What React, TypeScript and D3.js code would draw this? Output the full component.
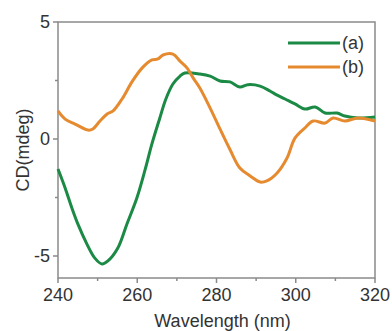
import { useEffect, useRef } from 'react';
import * as d3 from 'd3';

// curve (a), green
const waveA = [240, 241.8, 243.5, 245, 247.3, 249.3, 251.1, 252.6, 255.1, 257.4, 259.9, 262, 263.7, 265.7, 267.2, 269, 270.8, 272, 275.8, 278.4, 280.9, 283.4, 285.9, 287.9, 291, 293.5, 294.8, 297.3, 299.8, 302.3, 304.9, 307.4, 310.4, 312.4, 315.7, 320];
const cdA = [-1.28, -2.09, -2.95, -3.63, -4.49, -5.09, -5.34, -5.21, -4.66, -3.63, -2.52, -1.3, -0.21, 0.9, 1.7, 2.35, 2.69, 2.82, 2.78, 2.69, 2.48, 2.44, 2.22, 2.32, 2.26, 2.05, 1.92, 1.71, 1.5, 1.28, 1.37, 1.11, 1.11, 0.98, 0.9, 0.94];

// curve (b), orange
const waveB = [240, 241.8, 244.3, 247.6, 248.8, 250.6, 252.4, 253.9, 256.2, 258.7, 261.2, 263.7, 265.2, 266.5, 269, 270.8, 272.6, 274.1, 275.8, 278.4, 280.9, 283.4, 285.9, 288.5, 291, 292.7, 295.3, 297.8, 299.8, 302.3, 304.4, 307.4, 309.4, 312.4, 315.7, 320];
const cdB = [1.2, 0.85, 0.64, 0.38, 0.43, 0.77, 1.07, 1.2, 1.72, 2.45, 3.03, 3.38, 3.42, 3.59, 3.63, 3.33, 3.03, 2.61, 2.18, 1.32, 0.42, -0.45, -1.24, -1.58, -1.84, -1.79, -1.45, -0.81, 0.04, 0.47, 0.77, 0.68, 0.9, 0.77, 0.9, 0.77];

const xTicks = [240, 260, 280, 300, 320];
const xMinor = [250, 270, 290, 310];
const yTicks = [5, 0, -5];
const yMinor = [2.5, -2.5];

const series = [
  { label: '(a)', xs: waveA, ys: cdA, color: '#1b8a45' },
  { label: '(b)', xs: waveB, ys: cdB, color: '#e68a30' },
];

export default function App() {
  const svgRef = useRef<SVGSVGElement>(null);

  useEffect(() => {
    if (!svgRef.current) return;
    const svg = d3.select(svgRef.current);
    svg.selectAll('*').remove();

    const left = 58, right = 375, top = 22, bottom = 278;
    const x = d3.scaleLinear().domain([240, 320]).range([left, right]);
    const y = d3.scaleLinear().domain([-5.94, 5]).range([bottom, top]);
    const axisColor = '#8a8a8a';
    const font = 'Liberation Sans, Arial, sans-serif';

    // frame
    svg.append('rect')
      .attr('x', left).attr('y', top)
      .attr('width', right - left).attr('height', bottom - top)
      .attr('fill', 'none').attr('stroke', axisColor).attr('stroke-width', 1.5);

    // x ticks
    const gx = svg.append('g');
    xTicks.forEach((t) => {
      gx.append('line').attr('x1', x(t)).attr('x2', x(t)).attr('y1', bottom).attr('y2', bottom + 5)
        .attr('stroke', axisColor).attr('stroke-width', 1.5);
      gx.append('text').attr('x', x(t)).attr('y', bottom + 23)
        .attr('text-anchor', 'middle').attr('font-family', font).attr('font-size', 18).attr('fill', '#333')
        .text(t);
    });
    xMinor.forEach((t) => {
      gx.append('line').attr('x1', x(t)).attr('x2', x(t)).attr('y1', bottom).attr('y2', bottom + 3)
        .attr('stroke', axisColor).attr('stroke-width', 1.5);
    });

    // y ticks
    const gy = svg.append('g');
    yTicks.forEach((t) => {
      gy.append('line').attr('x1', left - 5).attr('x2', left).attr('y1', y(t)).attr('y2', y(t))
        .attr('stroke', axisColor).attr('stroke-width', 1.5);
      gy.append('text').attr('x', left - 8).attr('y', y(t) + 6)
        .attr('text-anchor', 'end').attr('font-family', font).attr('font-size', 18).attr('fill', '#333')
        .text(t < 0 ? `-${Math.abs(t)}` : t);
    });
    yMinor.forEach((t) => {
      gy.append('line').attr('x1', left - 3).attr('x2', left).attr('y1', y(t)).attr('y2', y(t))
        .attr('stroke', axisColor).attr('stroke-width', 1.5);
    });

    // axis titles
    svg.append('text')
      .attr('x', (left + right) / 2 + 6).attr('y', 327)
      .attr('text-anchor', 'middle').attr('font-family', font).attr('font-size', 18).attr('fill', '#333')
      .text('Wavelength (nm)');
    svg.append('text')
      .attr('transform', `translate(29,150) rotate(-90)`)
      .attr('text-anchor', 'middle').attr('font-family', font).attr('font-size', 18).attr('fill', '#333')
      .text('CD(mdeg)');

    // curves
    const line = d3.line<[number, number]>()
      .x((d) => x(d[0])).y((d) => y(d[1]))
      .curve(d3.curveCatmullRom.alpha(0.5));
    series.forEach((s) => {
      const pts: [number, number][] = s.xs.map((w, i) => [w, s.ys[i]]);
      svg.append('path').attr('d', line(pts))
        .attr('fill', 'none').attr('stroke', s.color).attr('stroke-width', 3)
        .attr('stroke-linejoin', 'round');
    });

    // legend
    series.forEach((s, i) => {
      const ly = 43 + i * 24;
      svg.append('line').attr('x1', 288).attr('x2', 340).attr('y1', ly).attr('y2', ly)
        .attr('stroke', s.color).attr('stroke-width', 3);
      svg.append('text').attr('x', 342).attr('y', ly + 6)
        .attr('font-family', font).attr('font-size', 18).attr('fill', '#333')
        .text(s.label);
    });
  }, []);

  return (
    <svg ref={svgRef} width={392} height={331}
      style={{ position: 'absolute', left: 0, top: 0, background: '#fff' }} />
  );
}
